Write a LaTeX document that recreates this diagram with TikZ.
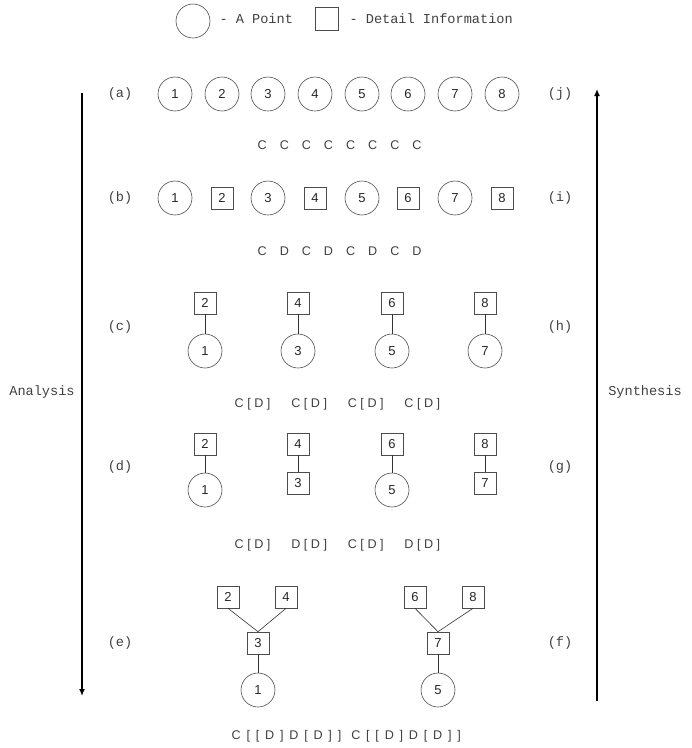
\documentclass[tikz,border=0pt]{standalone}
\usepackage{fontspec}
\setmainfont{Liberation Mono}
\newfontfamily\numfont{Liberation Sans}
\newfontfamily\formfont[LetterSpace=28]{Liberation Sans}
\newfontfamily\formfontw[LetterSpace=46]{Liberation Sans}
\usetikzlibrary{arrows.meta}
\newcommand\gA{\hspace{13pt}}
\newcommand\gB{\hspace{20.8pt}}
\begin{document}
\begin{tikzpicture}[x=1pt,y=-1pt,
  pt/.style={circle,draw=black!70,line width=0.6pt,minimum size=34pt,inner sep=0pt,font=\numfont\fontsize{13}{13}\selectfont,text=black!85},
  di/.style={rectangle,draw=black!70,line width=0.6pt,minimum size=22pt,inner sep=0pt,font=\numfont\fontsize{13}{13}\selectfont,text=black!85},
  lab/.style={font=\fontsize{13.6}{14}\selectfont,text=black!75},
  form/.style={font=\formfont\fontsize{12.6}{13}\selectfont,text=black!75,inner sep=0pt,anchor=west},
  formw/.style={font=\formfontw\fontsize{12.6}{13}\selectfont,text=black!75,inner sep=0pt,anchor=west},
  link/.style={draw=black!80,line width=0.6pt},
  bigarrow/.style={line width=1.6pt,-{Latex[length=7pt,width=6pt]}}]
\useasboundingbox (0,0) rectangle (692,748);
% legend
\node[pt] (lgc) at (193,21) {};
\node[lab,anchor=west] (lgct) at (216,19) {- A Point};
\node[di,minimum size=23pt] (lgs) at (327,19) {};
\node[lab,anchor=west] (lgst) at (346,19) {- Detail Information};
% row a
\node[lab] (la) at (120,94) {(a)};
\node[lab] (lj) at (560,94) {(j)};
\foreach \i/\x in {1/175,2/222,3/268,4/315,5/362,6/408,7/455,8/502}
  \node[pt] (a\i) at (\x,94) {\i};
\node[form] (fa) at (257.5,145) {C\gA C\gA C\gA C\gA C\gA C\gA C\gA C};
% row b
\node[lab] (lb) at (120,198) {(b)};
\node[lab] (li) at (560,198) {(i)};
\foreach \i/\x in {1/175,3/268,5/362,7/455}
  \node[pt] (b\i) at (\x,198) {\i};
\foreach \i/\x in {2/222,4/315,6/408,8/502}
  \node[di] (b\i) at (\x,198) {\i};
\node[form] (fb) at (257.5,251) {C\gA D\gA C\gA D\gA C\gA D\gA C\gA D};
% row c
\node[lab] (lc) at (120,327) {(c)};
\node[lab] (lh) at (560,327) {(h)};
\foreach \c/\d/\x in {1/2/205,3/4/298,5/6/392,7/8/485}{
  \node[di] (c\d) at (\x,303) {\d};
  \node[pt] (c\c) at (\x,351) {\c};
  \draw[link] (c\d) -- (c\c);
}
\node[form] (fc) at (234.5,404) {C[D]\gB C[D]\gB C[D]\gB C[D]};
% row d
\node[lab] (ld) at (120,467) {(d)};
\node[lab] (lg) at (560,467) {(g)};
\node[di] (d2) at (205,444) {2};
\node[pt] (d1) at (205,490) {1};
\node[di] (d4) at (298,444) {4};
\node[di] (d3) at (298,483) {3};
\node[di] (d6) at (392,444) {6};
\node[pt] (d5) at (392,490) {5};
\node[di] (d8) at (485,444) {8};
\node[di] (d7) at (485,483) {7};
\draw[link] (d2) -- (d1);
\draw[link] (d4) -- (d3);
\draw[link] (d6) -- (d5);
\draw[link] (d8) -- (d7);
\node[form] (fd) at (234.5,545) {C[D]\gB D[D]\gB C[D]\gB D[D]};
% row e
\node[lab] (le) at (120,643) {(e)};
\node[lab] (lf) at (560,643) {(f)};
\node[di] (e2) at (228,597) {2};
\node[di] (e4) at (286,597) {4};
\node[di] (e3) at (258,643) {3};
\node[pt] (e1) at (258,690) {1};
\node[di] (e6) at (415,597) {6};
\node[di] (e8) at (473,597) {8};
\node[di] (e7) at (438,643) {7};
\node[pt] (e5) at (438,690) {5};
\draw[link] (e2.south) -- (e3.north);
\draw[link] (e4.south) -- (e3.north);
\draw[link] (e3) -- (e1);
\draw[link] (e6.south) -- (e7.north);
\draw[link] (e8.south) -- (e7.north);
\draw[link] (e7) -- (e5);
\node[formw] (fe) at (231.5,736) {C[[D]D[D]]\hspace{10pt}C[[D]D[D]]};
% arrows
\coordinate (an1) at (82,93);
\coordinate (an2) at (82,696);
\coordinate (sy1) at (597,701);
\coordinate (sy2) at (597,89);
\draw[bigarrow] (an1) -- (an2);
\draw[bigarrow] (sy1) -- (sy2);
\node[lab] (an) at (42,392) {Analysis};
\node[lab] (sy) at (645,392) {Synthesis};
\end{tikzpicture}
\end{document}
